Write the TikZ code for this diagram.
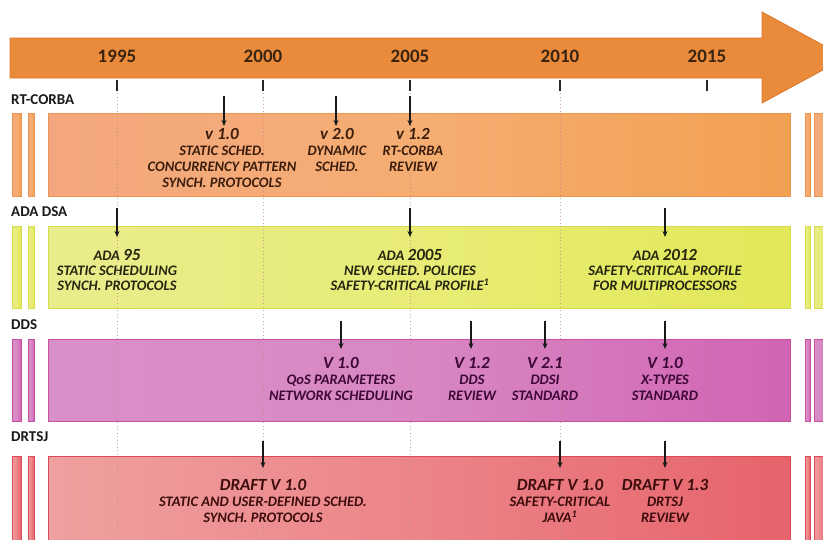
\documentclass[tikz,border=0pt]{standalone}
\usepackage{fontspec}
\setmainfont{Carlito}
\usetikzlibrary{arrows.meta}

% timeline axis
\definecolor{axisorange}{HTML}{EA8A3B}
\definecolor{axisedge}{HTML}{D9762B}
\definecolor{yeartext}{HTML}{3A2410}
\definecolor{gridcol}{HTML}{B88C86}
% RT-CORBA band
\definecolor{corbaL}{HTML}{F4A77E}
\definecolor{corbaM}{HTML}{F5AD72}
\definecolor{corbaR}{HTML}{F2A052}
\definecolor{corbaEdge}{HTML}{EC9550}
\definecolor{corbaText}{HTML}{3B1D0C}
% ADA DSA band
\definecolor{adaL}{HTML}{E9EC8C}
\definecolor{adaM}{HTML}{E8EC76}
\definecolor{adaR}{HTML}{E2E858}
\definecolor{adaEdge}{HTML}{D6DC4A}
\definecolor{adaText}{HTML}{26260F}
% DDS band
\definecolor{ddsL}{HTML}{D990C8}
\definecolor{ddsM}{HTML}{D887C3}
\definecolor{ddsR}{HTML}{D164B4}
\definecolor{ddsEdge}{HTML}{C8509E}
\definecolor{ddsText}{HTML}{3D0836}
% DRTSJ band
\definecolor{drtL}{HTML}{EFA0A0}
\definecolor{drtM}{HTML}{EC8489}
\definecolor{drtR}{HTML}{E6636B}
\definecolor{drtEdge}{HTML}{DC4A55}
\definecolor{drtText}{HTML}{3D0C0C}

\newcommand{\verln}[1]{{\fontsize{17}{17}\selectfont #1}}

% one coloured band with its thin side strips
\newcommand{\bandrow}[3]{%
  \path[band=#1] (12,#2) rectangle ++(9,#3);
  \path[band=#1] (28,#2) rectangle ++(6,#3);
  \path[band=#1] (48,#2) rectangle ++(742,#3);
  \path[band=#1] (805,#2) rectangle ++(5,#3);
  \path[band=#1] (814,#2) rectangle ++(14,#3);
}

\begin{document}
\begin{tikzpicture}[x=1pt,y=-1pt,
  axis/.style={fill=axisorange, draw=axisedge, line width=0.8pt},
  band/.style={draw=#1Edge, line width=0.7pt, left color=#1L, right color=#1R, middle color=#1M},
  gridline/.style={draw=gridcol, line width=0.9pt, dash pattern=on 1.3pt off 2.2pt, opacity=0.75},
  yeartick/.style={draw=black!85, line width=1.6pt},
  yearlbl/.style={text=yeartext, font=\fontsize{19}{19}\selectfont\bfseries, inner sep=0pt},
  bandlbl/.style={anchor=west, inner sep=0pt, font=\fontsize{15}{15}\selectfont\bfseries, text=black!90},
  evt/.style={anchor=north, align=center, inner sep=0pt, font=\fontsize{14.5}{16}\selectfont\bfseries\itshape},
  evttight/.style={evt, font=\fontsize{14.5}{15}\selectfont\bfseries\itshape},
  evtarrow/.style={draw=black!90, line width=1.3pt, -{Stealth[length=6pt,width=5pt]}},
]
\useasboundingbox (0,0) rectangle (823,539);
\clip (0,0) rectangle (823,539);

% time axis arrow
\path[axis] (10,38) -- (762,38) -- (762,12) -- (846,57.5) -- (762,103) -- (762,78) -- (10,78) -- cycle;

% year labels
\node[yearlbl] (y1995) at (117,56) {1995};
\node[yearlbl] (y2000) at (263,56) {2000};
\node[yearlbl] (y2005) at (410,56) {2005};
\node[yearlbl] (y2010) at (560,56) {2010};
\node[yearlbl] (y2015) at (707,56) {2015};

% bands
\bandrow{corba}{113}{83}
\bandrow{ada}{226}{82}
\bandrow{dds}{339}{82}
\bandrow{drt}{456}{90}

% band labels
\node[bandlbl] (lcorba) at (11,100) {RT-CORBA};
\node[bandlbl] (lada) at (11,212) {ADA DSA};
\node[bandlbl] (ldds) at (11,325) {DDS};
\node[bandlbl] (ldrt) at (11,437) {DRTSJ};

% year ticks and dotted guide lines
\foreach \x/\n in {117/1995,263/2000,410/2005,560/2010,707/2015}{
  \coordinate (ta\n) at (\x,80);
  \coordinate (tb\n) at (\x,91);
  \draw[yeartick] (ta\n) -- (tb\n);
}
\foreach \x/\n in {117/1995,263/2000,410/2005,560/2010}{
  \coordinate (ga\n) at (\x,93);
  \coordinate (gb\n) at (\x,539);
  \draw[gridline] (ga\n) -- (gb\n);
}

% RT-CORBA events
\node[evt, text=corbaText] (corbaA) at (222,128) {\verln{v 1.0}\\STATIC SCHED.\\CONCURRENCY PATTERN\\SYNCH. PROTOCOLS};
\node[evt, text=corbaText] (corbaB) at (337,128) {\verln{v 2.0}\\DYNAMIC\\SCHED.};
\node[evt, text=corbaText] (corbaC) at (413,128) {\verln{v 1.2}\\RT-CORBA\\REVIEW};
\foreach \x/\n in {224/A,336/B,410/C}{
  \coordinate (cs\n) at (\x,96);
  \coordinate (ce\n) at (\x,126);
  \draw[evtarrow] (cs\n) -- (ce\n);
}

% ADA DSA events
\node[evttight, text=adaText] (adaA) at (117,249) {ADA \verln{95}\\STATIC SCHEDULING\\SYNCH. PROTOCOLS};
\node[evttight, text=adaText] (adaB) at (410,249) {ADA \verln{2005}\\NEW SCHED. POLICIES\\SAFETY-CRITICAL PROFILE\textsuperscript{1}};
\node[evttight, text=adaText] (adaC) at (665,249) {ADA \verln{2012}\\SAFETY-CRITICAL PROFILE\\FOR MULTIPROCESSORS};
\foreach \x/\n in {117/A,410/B,665/C}{
  \coordinate (as\n) at (\x,208);
  \coordinate (ae\n) at (\x,237);
  \draw[evtarrow] (as\n) -- (ae\n);
}

% DDS events
\node[evt, text=ddsText] (ddsA) at (341,357) {\verln{V 1.0}\\QoS PARAMETERS\\NETWORK SCHEDULING};
\node[evt, text=ddsText] (ddsB) at (472,357) {\verln{V 1.2}\\DDS\\REVIEW};
\node[evt, text=ddsText] (ddsC) at (545,357) {\verln{V 2.1}\\DDSI\\STANDARD};
\node[evt, text=ddsText] (ddsD) at (665,357) {\verln{V 1.0}\\X-TYPES\\STANDARD};
\foreach \x/\n in {341/A,471/B,545/C,665/D}{
  \coordinate (ds\n) at (\x,321);
  \coordinate (de\n) at (\x,349);
  \draw[evtarrow] (ds\n) -- (de\n);
}

% DRTSJ events
\node[evt, text=drtText] (drtA) at (263,479) {\verln{DRAFT V 1.0}\\STATIC AND USER-DEFINED SCHED.\\SYNCH. PROTOCOLS};
\node[evt, text=drtText] (drtB) at (560,479) {\verln{DRAFT V 1.0}\\SAFETY-CRITICAL\\JAVA\textsuperscript{1}};
\node[evt, text=drtText] (drtC) at (665,479) {\verln{DRAFT V 1.3}\\DRTSJ\\REVIEW};
\foreach \x/\n in {263/A,560/B,665/C}{
  \coordinate (rs\n) at (\x,441);
  \coordinate (re\n) at (\x,468);
  \draw[evtarrow] (rs\n) -- (re\n);
}
\end{tikzpicture}
\end{document}
